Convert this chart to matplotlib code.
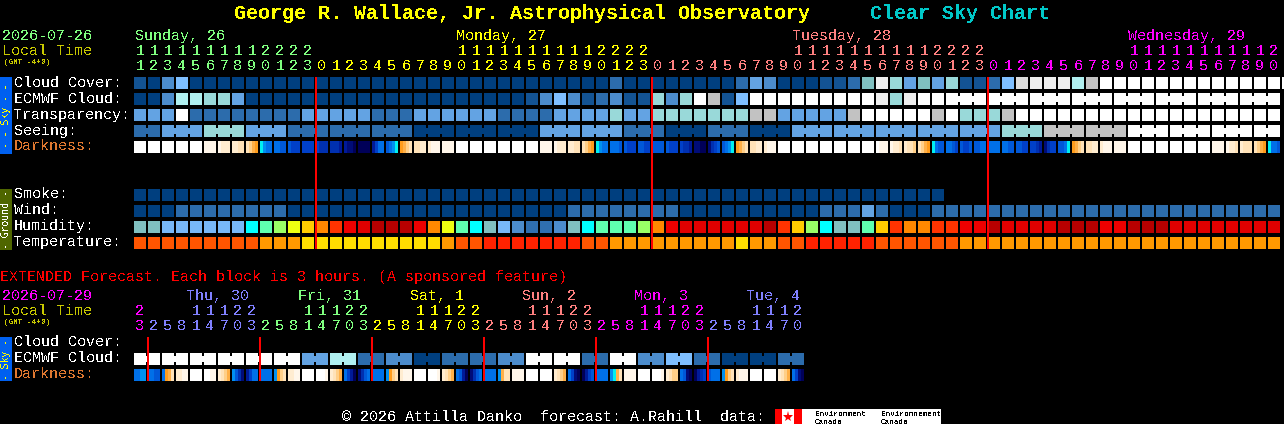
import matplotlib
matplotlib.use('Agg')
import matplotlib.pyplot as plt

plt.rcParams['font.family'] = 'Liberation Mono'
plt.rcParams['text.antialiased'] = False

# colour tables, index = level stored in the rows below
SKY = ['#003f7f', '#135393', '#2c6cac', '#4c8ccc', '#63a3e3', '#7fbfff', '#80c0c0',
       '#99d9d9', '#b0f0f0', '#c2c2c2', '#eeeeee', '#ffffff', '#dcdcdc']
HUMID = ['#2f6fb0', '#4c8ccc', '#78b8f8', '#80c0c0', '#00ffff', '#5fffaf', '#99ff66',
         '#eeff11', '#ffcc00', '#ff8800', '#ff3300', '#ee0000', '#e00000', '#b80000']
TEMP = ['#ff2200', '#ff5500', '#ff9900', '#ffdd00']
DARK = ['#ffffff', '#fff6ea', '#ffecd0', '#ffe2b8', '#ffcf88', '#ffb048', '#ff9c1c',
        '#00f0f0', '#0090f0', '#0070e8', '#0058d8', '#0040c8', '#0030b0', '#001a98',
        '#000c78', '#000058']

cloud = [1, 0, 3, 5, 0, 0, 0, 0, 0, 0, 0, 0, 0, 0, 0, 0, 0, 0, 0, 0, 0,
         0, 0, 0, 0, 0, 0, 0, 0, 0, 0, 0, 0, 0, 2, 0, 0,
         0, 0, 0, 0, 0, 0, 2, 4, 3, 0, 0, 0, 1, 1, 2, 6, 10, 7, 4, 6, 4, 7, 1, 1,
         2, 5, 12, 10, 10, 10, 8, 9, 11, 11, 11, 11, 11, 11, 11, 11, 11, 11, 11, 11, 11, 11]
ecmwf = [0, 0, 3, 8, 8, 7, 7, 4, 0, 0, 0, 0, 0, 0, 0, 0, 0, 0, 0, 0, 0,
         0, 0, 0, 0, 0, 0, 0, 1, 3, 5, 3, 1, 2, 3, 1, 1,
         7, 3, 7, 11, 9, 1, 5, 11, 11, 11, 11, 11, 11, 11, 11, 11, 10, 7, 10, 11, 11, 11, 11, 11,
         11, 11, 11, 11, 11, 11, 11, 11, 11, 11, 11, 11, 11, 11, 11, 11, 11, 11, 11, 11, 11]
transparency = [4, 4, 4, 11, 2, 2, 2, 2, 2, 2, 2, 2, 4, 4, 4, 4, 4, 2, 2, 2, 4,
                4, 4, 4, 4, 4, 2, 2, 2, 2, 4, 4, 4, 4, 7, 4, 4,
                7, 7, 7, 7, 7, 7, 7, 9, 9, 4, 4, 4, 4, 4, 9, 11, 11, 11, 11, 11, 9, 11, 7, 7,
                7, 9, 11, 11, 11, 11, 11, 11, 11, 11, 11, 11, 11, 11, 11, 11, 11, 11, 11, 11, 11]
seeing = [2, 2, 4, 4, 4, 7, 7, 7, 4, 4, 4, 2, 2, 2, 2, 2, 2, 2, 2, 2, 0,
          0, 0, 0, 0, 0, 0, 0, 0, 4, 4, 4, 4, 4, 4, 2, 2,
          2, 0, 0, 0, 2, 2, 2, 0, 0, 0, 4, 4, 4, 4, 4, 4, 4, 4, 4, 4, 4, 4, 4, 4,
          4, 7, 7, 7, 9, 9, 9, 9, 9, 9, 11, 11, 11, 11, 11, 11, 11, 11, 11, 11, 11]
smoke = [0] * 58
wind = [0, 0, 0, 2, 2, 2, 2, 2, 2, 2, 2, 0, 0, 0, 0, 0, 0, 0, 0, 0, 0,
        0, 0, 0, 0, 0, 0, 0, 0, 0, 0, 2, 2, 2, 2, 2, 2,
        2, 2, 0, 0, 0, 0, 0, 0, 0, 0, 0, 0, 2, 2, 2, 4, 2, 0, 0, 0, 2, 2, 2, 2,
        2, 2, 2, 2, 2, 2, 2, 2, 2, 2, 2, 2, 2, 2, 2, 2, 2, 2, 2, 2, 2]
humidity = [3, 3, 2, 2, 2, 2, 2, 2, 4, 5, 6, 7, 8, 9, 10, 11, 12, 13, 13, 13, 11,
            9, 7, 5, 4, 3, 2, 1, 0, 0, 1, 3, 4, 5, 5, 5, 6,
            9, 11, 12, 12, 12, 12, 12, 12, 13, 10, 8, 6, 4, 3, 3, 5, 8, 10, 9, 9, 10, 10, 11, 11,
            13, 12, 12, 12, 12, 13, 13, 13, 11, 11, 13, 13, 13, 12, 12, 12, 12, 12, 12, 12, 12]
temperature = [1, 1, 1, 1, 1, 1, 1, 1, 1, 2, 2, 2, 3, 3, 3, 3, 3, 3, 3, 3, 3,
               3, 2, 1, 1, 0, 0, 0, 0, 0, 0, 0, 1, 1, 2, 2, 2,
               2, 2, 2, 2, 2, 2, 3, 2, 2, 1, 1, 0, 0, 0, 0, 0, 1, 1, 1, 1, 1, 1, 2, 2,
               2, 2, 2, 2, 2, 2, 2, 2, 2, 2, 2, 2, 2, 2, 2, 2, 2, 2, 2, 2, 2]
# four steps inside each block
darkness = [
    [0, 0, 0, 0], [0, 0, 0, 0], [0, 0, 0, 0], [0, 0, 0, 0], [0, 0, 0, 0], [1, 1, 1, 1],
    [1, 2, 2, 2], [2, 2, 3, 3], [3, 4, 5, 6], [7, 8, 9, 9], [9, 9, 10, 10], [10, 11, 11, 11],
    [11, 11, 11, 11], [11, 12, 12, 12], [12, 12, 12, 13], [13, 14, 14, 15], [15, 15, 15, 15],
    [13, 11, 9, 9], [10, 9, 8, 7], [6, 5, 4, 3], [3, 3, 2, 2], [2, 1, 1, 1], [1, 1, 1, 1],
    [0, 0, 0, 0], [0, 0, 0, 0], [0, 0, 0, 0], [0, 0, 0, 0], [0, 0, 0, 0], [0, 0, 0, 0],
    [1, 1, 1, 1], [1, 2, 2, 2], [2, 2, 3, 3], [3, 4, 5, 6], [7, 8, 9, 9], [9, 9, 9, 10],
    [10, 11, 11, 11], [10, 10, 11, 11], [10, 10, 10, 10], [10, 11, 11, 11], [11, 12, 12, 13],
    [14, 14, 15, 15], [14, 12, 11, 10], [10, 9, 8, 7], [6, 5, 4, 3], [3, 3, 2, 2], [2, 1, 1, 1],
    [0, 0, 0, 0], [0, 0, 0, 0], [0, 0, 0, 0], [0, 0, 0, 0], [0, 0, 0, 0], [0, 0, 0, 0],
    [0, 0, 0, 0], [0, 1, 1, 1], [1, 2, 2, 3], [2, 3, 3, 4], [3, 4, 5, 6], [7, 9, 10, 10],
    [9, 9, 10, 11], [10, 11, 11, 10], [10, 10, 9, 9], [9, 9, 9, 9], [9, 9, 10, 10],
    [10, 10, 11, 11], [11, 11, 12, 13], [14, 12, 11, 11], [10, 10, 9, 7], [6, 5, 4, 3],
    [3, 3, 2, 2], [2, 1, 1, 1], [1, 1, 1, 1], [0, 0, 0, 0], [0, 0, 0, 0], [0, 0, 0, 0],
    [0, 0, 0, 0], [0, 0, 0, 0], [0, 0, 0, 0], [1, 1, 1, 1], [1, 2, 2, 3], [2, 3, 3, 3],
    [3, 4, 5, 6], [7, 9, 9, 10]]

ext_ecmwf = [11, 11, 11, 11, 11, 11, 4, 8, 2, 3, 0, 2, 2, 3, 11, 11, 2, 11, 3, 5, 2, 0, 0, 2]
ext_darkness = [
    [9, 9, 8, 8], [9, 9, 10, 10], [9, 6, 5, 3], [2, 2, 1, 1], [0, 0, 0, 0], [0, 0, 1, 1],
    [2, 3, 4, 5], [8, 10, 12, 14], [13, 11, 9, 9], [9, 9, 9, 9], [8, 6, 4, 3], [2, 2, 1, 1],
    [0, 0, 0, 0], [0, 0, 0, 1], [2, 3, 4, 5], [9, 11, 13, 15], [14, 12, 10, 9], [9, 9, 9, 9],
    [8, 6, 4, 3], [2, 1, 1, 1], [0, 0, 0, 0], [0, 0, 0, 1], [2, 3, 4, 5], [9, 10, 13, 15],
    [14, 12, 10, 9], [9, 9, 9, 9], [8, 5, 3, 3], [1, 1, 1, 1], [0, 0, 0, 0], [0, 0, 0, 0],
    [2, 3, 4, 5], [9, 11, 14, 15], [15, 13, 11, 10], [9, 9, 9, 9], [8, 7, 5, 3], [1, 1, 1, 1],
    [0, 0, 0, 0], [0, 0, 0, 1], [2, 3, 4, 4], [9, 10, 14, 15], [15, 13, 12, 11], [10, 9, 9, 9],
    [8, 6, 4, 3], [2, 1, 1, 1], [0, 0, 0, 0], [0, 0, 0, 0], [2, 3, 4, 5], [9, 11, 14, 15]]

day_labels = ['Sunday, 26', 'Monday, 27', 'Tuesday, 28', 'Wednesday, 29']
day_colors = ['#80ff80', '#ffff00', '#ff8080', '#ff00ff']
day_hours = [list(range(11, 24)), list(range(24)), list(range(24)), list(range(21))]

ext_labels = ['Thu, 30', 'Fri, 31', 'Sat, 1', 'Sun, 2', 'Mon, 3', 'Tue, 4']
ext_colors = ['#ff00ff', '#8080ff', '#80ff80', '#ffff00', '#ff8080', '#ff00ff', '#8080ff']
ext_hours = [[23], [2, 5, 8, 11, 14, 17, 20, 23], [2, 5, 8, 11, 14, 17, 20, 23],
             [2, 5, 8, 11, 14, 17, 20, 23], [2, 5, 8, 11, 14, 17, 20, 23],
             [2, 5, 8, 11, 14, 17, 20, 23], [2, 5, 8, 11, 14, 17, 20]]

X0 = 134
STEP = 14
BLOCK = 12
NORMAL = 10.8   # 9 px per character
WHITE = '#ffffff'
LOCAL = '#c8c800'

fig = plt.figure(figsize=(12.84, 4.24), dpi=100, facecolor='black')
ax = fig.add_axes([0, 0, 1, 1])
ax.set_xlim(0, 1284)
ax.set_ylim(424, 0)
ax.axis('off')


def block_x(i):
    return X0 + STEP * i


def put(x, y, s, color=WHITE, size=NORMAL, **kw):
    ax.text(x, y, s, color=color, fontsize=size, va='baseline', **kw)


def row(values, palette, top, joined=None):
    xs = [block_x(i) for i in range(len(values))]
    ax.bar(xs, BLOCK, width=BLOCK, bottom=top, align='edge', linewidth=0, antialiased=False,
           color=[palette[v] for v in values], zorder=2)
    if joined is None:
        return
    # same-forecast blocks are tied together by a short bar in the gap
    for i in range(len(values) - 1):
        if joined(i) and values[i] == values[i + 1]:
            ax.bar(block_x(i) + BLOCK, 6, width=STEP - BLOCK, bottom=top + 3, align='edge',
                   linewidth=0, antialiased=False, color=palette[values[i]], zorder=2)


def dark_row(values, top):
    for i, steps in enumerate(values):
        xs = [block_x(i) + 3 * k for k in range(4)]
        ax.bar(xs, BLOCK, width=3, bottom=top, align='edge', linewidth=0, antialiased=False,
               color=[DARK[v] for v in steps], zorder=2)


def hour_row(hours, colors, tens_y, ones_y):
    col = 0
    for day, color in zip(hours, colors):
        for h in day:
            cx = block_x(col) + BLOCK / 2
            if h >= 10:
                put(cx, tens_y, str(h // 10), color, ha='center')
            put(cx, ones_y, str(h % 10), color, ha='center')
            col += 1


def strip(top, bottom, color, s, text_color):
    ax.bar(0, bottom - top, width=12, bottom=top, align='edge', color=color, linewidth=0,
           antialiased=False, zorder=1)
    ax.text(6, (top + bottom) / 2, s, color=text_color, fontsize=7, rotation=90,
            family='DejaVu Sans Mono', ha='center', va='center', zorder=3)


def midnight(col, top, bottom):
    ax.bar(block_x(col) - 1, bottom - top, width=2, bottom=top, align='edge', color='#ff0000',
           linewidth=0, antialiased=False, zorder=4)


# titles
put(234, 19, 'George R. Wallace, Jr. Astrophysical Observatory', '#ffff00', 14.4, weight='bold')
put(870, 19, 'Clear Sky Chart', '#00c8c8', 14.4, weight='bold')

# main chart heading
put(2, 40, '2026-07-26', '#80ff80')
put(2, 55, 'Local Time', LOCAL)
put(4, 64, '(GMT -4+0)', LOCAL, 5.5)
for label, color, x in zip(day_labels, day_colors, [135, 456, 792, 1128]):
    put(x, 40, label, color)
hour_row(day_hours, day_colors, 55, 70)

# sky rows
row(cloud, SKY, 77)
row(ecmwf, SKY, 93, lambda i: i >= 58 and (i + 1 - 58) % 3 != 0)
row(transparency, SKY, 109)
row(seeing, SKY, 125, lambda i: (i + 1 - 2) % 3 != 0)
dark_row(darkness, 141)

# ground rows
row(smoke, SKY, 189)
row(wind, SKY, 205)
row(humidity, HUMID, 221)
row(temperature, TEMP, 237)

for label, y in zip(['Cloud Cover:', 'ECMWF Cloud:', 'Transparency:', 'Seeing:'], [87, 103, 119, 135]):
    put(14, y, label)
put(14, 150, 'Darkness:', '#e07830')
for label, y in zip(['Smoke:', 'Wind:', 'Humidity:', 'Temperature:'], [198, 214, 230, 246]):
    put(14, y, label)

strip(77, 154, '#0060f0', '- - Sky - -', '#ffff00')
strip(189, 250, '#4f6600', '- Ground -', WHITE)

# midnight markers
for col in [13, 37, 61]:
    midnight(col, 77, 249)

# extended forecast
put(0, 281, 'EXTENDED Forecast. Each block is 3 hours. (A sponsored feature)', '#ff0000')
put(2, 300, '2026-07-29', '#ff00ff')
put(2, 315, 'Local Time', LOCAL)
put(4, 324, '(GMT -4+0)', LOCAL, 5.5)
for i, (label, color) in enumerate(zip(ext_labels, ext_colors[1:])):
    put(186 + 112 * i, 300, label, color)
hour_row(ext_hours, ext_colors, 315, 330)

ext_blocks = [v for v in ext_ecmwf for _ in range(2)]
row(ext_blocks, SKY, 353, lambda i: i % 2 == 0)
dark_row(ext_darkness, 369)

put(14, 346, 'Cloud Cover:')
put(14, 362, 'ECMWF Cloud:')
put(14, 378, 'Darkness:', '#e07830')
strip(337, 381, '#0060f0', '- Sky -', '#ffff00')

for col in [1, 9, 17, 25, 33, 41]:
    midnight(col, 337, 381)

# footer with the agency banner
put(342, 421, '\u00a9 2026 Attilla Danko  forecast: A.Rahill  data:')
ax.bar(775, 15, width=166, bottom=409, align='edge', color=WHITE, linewidth=0, antialiased=False)
ax.bar([775, 794], 15, width=[7, 8], bottom=409, align='edge', color='#ff0000', linewidth=0,
       antialiased=False, zorder=2)
ax.plot(788, 416.5, marker='*', ms=8, color='#ff0000', mew=0, zorder=3)
for x, word in [(815, 'Environment'), (881, 'Environnement')]:
    ax.text(x, 415, word, color='black', fontsize=5.5, va='center', zorder=3)
    ax.text(x, 422, 'Canada', color='black', fontsize=5.5, va='center', zorder=3)

fig.savefig('out.png', dpi=100, facecolor='black')
